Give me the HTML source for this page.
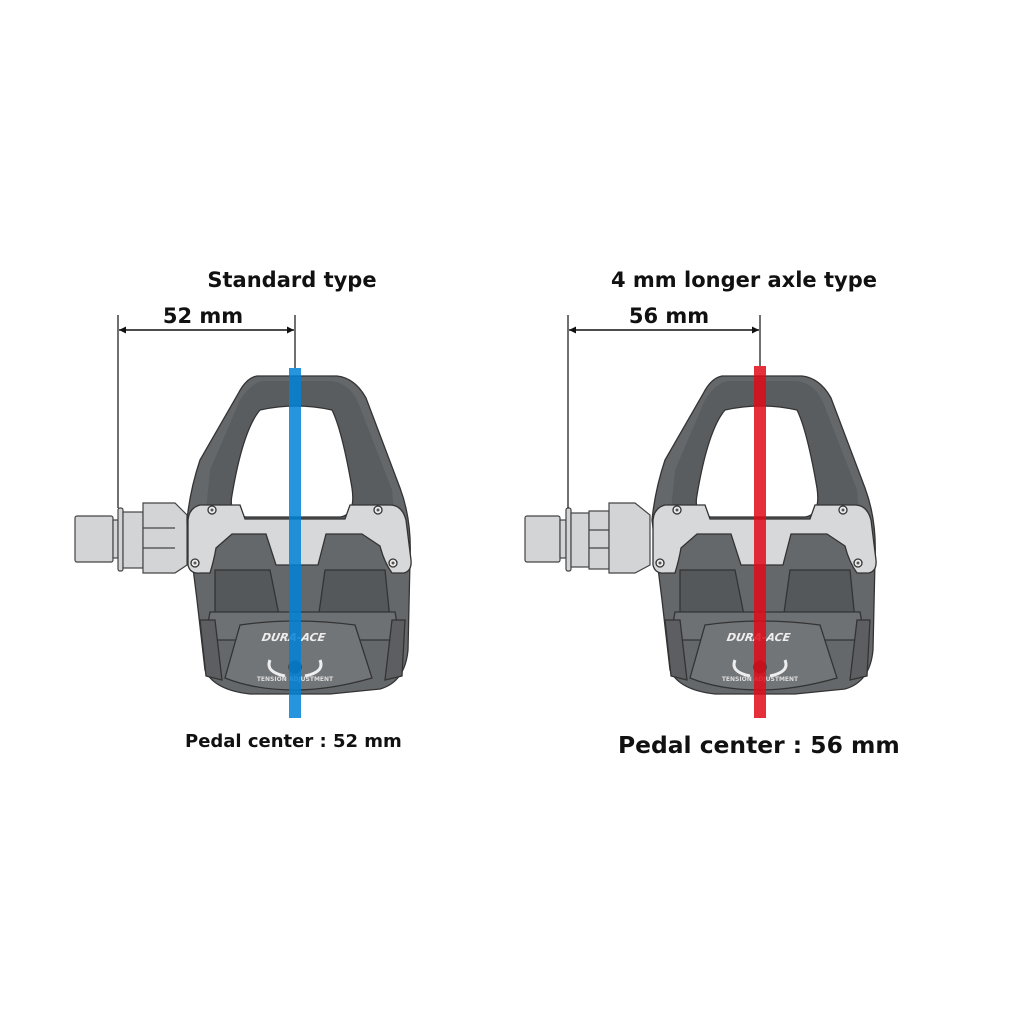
<!DOCTYPE html>
<html><head><meta charset="utf-8"><style>
html,body{margin:0;padding:0;background:#fff;}
svg{display:block;}
text{font-family:"DejaVu Sans","Liberation Sans",sans-serif;font-weight:bold;fill:#111;}
</style></head><body>
<svg width="1024" height="1024" viewBox="0 0 1024 1024" xmlns="http://www.w3.org/2000/svg">
<defs>
<marker id="ar" viewBox="0 0 10 10" refX="10" refY="5" markerWidth="9" markerHeight="7" orient="auto-start-reverse" markerUnits="userSpaceOnUse">
<path d="M0,0 L10,5 L0,10 Z" fill="#111"/></marker>
<g id="pedal" stroke="#333" stroke-width="1.3">
  <path d="M257,376 L337,376 Q355,378 366,398 L400,488 Q412,520 410,560 L408,650 Q405,682 380,689 L330,694 L250,694 Q214,690 205,670 L197,600 L187,520 Q190,490 200,460 L238,394 Q246,378 257,376 Z" fill="#65686b"/>
  <path d="M262,381 L332,381 Q350,384 358,402 L392,490 L395,520 L205,520 L210,470 L240,400 Q250,384 262,381Z" fill="#5a5d60" stroke="none"/>
  <path d="M260,410 Q296,402 332,410 Q342,430 352,488 Q356,515 340,517 L246,517 Q228,515 232,495 Q243,430 260,410 Z" fill="#fff"/>
  <path d="M215,570 L270,570 L280,620 L215,620 Z" fill="#55585b"/>
  <path d="M325,570 L385,570 L390,620 L318,620 Z" fill="#55585b"/>
  <path d="M210,612 L395,612 L400,640 L205,640Z" fill="#6e7174"/>
  <path d="M240,625 Q295,617 355,625 L372,678 Q330,690 295,690 Q255,690 225,678 Z" fill="#727578"/>
  <path d="M200,620 L215,620 L222,680 L206,676Z" fill="#5c5e61"/>
  <path d="M392,620 L405,620 L402,676 L385,680Z" fill="#5c5e61"/>
  <path d="M200,505 Q189,508 188,520 L188,565 Q190,574 200,573 L210,573 Q214,560 216,548 L232,534 L266,534 L276,565 L318,565 L326,534 L362,534 L380,546 Q384,562 392,573 L404,573 Q412,571 411,560 L406,520 Q402,505 390,505 L350,505 L345,519 L245,519 L240,505 Z" fill="#d7d8d9"/>
  <circle cx="212" cy="510" r="4" fill="#eee"/><circle cx="212" cy="510" r="1.5" fill="#555" stroke="none"/>
  <circle cx="378" cy="510" r="4" fill="#eee"/><circle cx="378" cy="510" r="1.5" fill="#555" stroke="none"/>
  <circle cx="195" cy="563" r="4" fill="#eee"/><circle cx="195" cy="563" r="1.5" fill="#555" stroke="none"/>
  <circle cx="393" cy="563" r="4" fill="#eee"/><circle cx="393" cy="563" r="1.5" fill="#555" stroke="none"/>
  <circle cx="295" cy="667" r="6" fill="#333"/>
  <text x="293" y="641" font-size="11" font-style="italic" text-anchor="middle" style="fill:#eee;font-weight:bold;stroke:none" transform="skewX(-10) translate(113,0)">DURA-ACE</text>
  <path d="M270,660 Q265,672 285,676 M320,660 Q325,672 305,676" fill="none" stroke="#eee" stroke-width="3"/>
  <text x="295" y="681" font-size="6" text-anchor="middle" style="fill:#ddd;stroke:none">TENSION ADJUSTMENT</text>
</g>
</defs>

<g stroke="#444" stroke-width="1.2" fill="#d3d4d5">
  <rect x="75" y="516" width="38" height="46" rx="2"/>
  <rect x="113" y="520" width="5" height="38"/>
  <rect x="118" y="508" width="5" height="63" rx="2"/>
  <rect x="123" y="512" width="20" height="56"/>
  <path d="M143,503 L175,503 L187,515 L187,565 L175,573 L143,573 Z"/>
  <line x1="143" y1="528" x2="175" y2="528"/><line x1="143" y1="548" x2="175" y2="548"/>
</g>
<use href="#pedal"/>
<rect x="289" y="368" width="12" height="350" fill="rgba(0,130,215,0.85)"/>

<line x1="118" y1="315" x2="118" y2="508" stroke="#111" stroke-width="1.2"/>
<line x1="295" y1="315" x2="295" y2="368" stroke="#111" stroke-width="1.2"/>
<line x1="119" y1="330" x2="294" y2="330" stroke="#111" stroke-width="1.5" marker-start="url(#ar)" marker-end="url(#ar)"/>
<text x="292" y="287" font-size="21" text-anchor="middle">Standard type</text>
<text x="203" y="323" font-size="21" text-anchor="middle">52 mm</text>
<text x="185" y="747" font-size="18">Pedal center : 52 mm</text>

<g stroke="#444" stroke-width="1.2" fill="#d3d4d5">
  <rect x="525" y="516" width="35" height="46" rx="2"/>
  <rect x="560" y="520" width="6" height="38"/>
  <rect x="566" y="508" width="5" height="63" rx="2"/>
  <rect x="571" y="513" width="18" height="54"/>
  <rect x="589" y="511" width="20" height="58"/>
  <path d="M609,503 L635,503 L650,515 L650,565 L635,573 L609,573 Z"/>
  <line x1="589" y1="530" x2="609" y2="530"/><line x1="589" y1="548" x2="609" y2="548"/>
</g>
<use href="#pedal" transform="translate(465,0)"/>
<rect x="754" y="366" width="12" height="352" fill="rgba(225,10,25,0.85)"/>

<line x1="568" y1="315" x2="568" y2="508" stroke="#111" stroke-width="1.2"/>
<line x1="760" y1="315" x2="760" y2="366" stroke="#111" stroke-width="1.2"/>
<line x1="569" y1="330" x2="759" y2="330" stroke="#111" stroke-width="1.5" marker-start="url(#ar)" marker-end="url(#ar)"/>
<text x="744" y="287" font-size="21" text-anchor="middle">4 mm longer axle type</text>
<text x="669" y="323" font-size="21" text-anchor="middle">56 mm</text>
<text x="618" y="753" font-size="23.4">Pedal center : 56 mm</text>
</svg>
</body></html>
